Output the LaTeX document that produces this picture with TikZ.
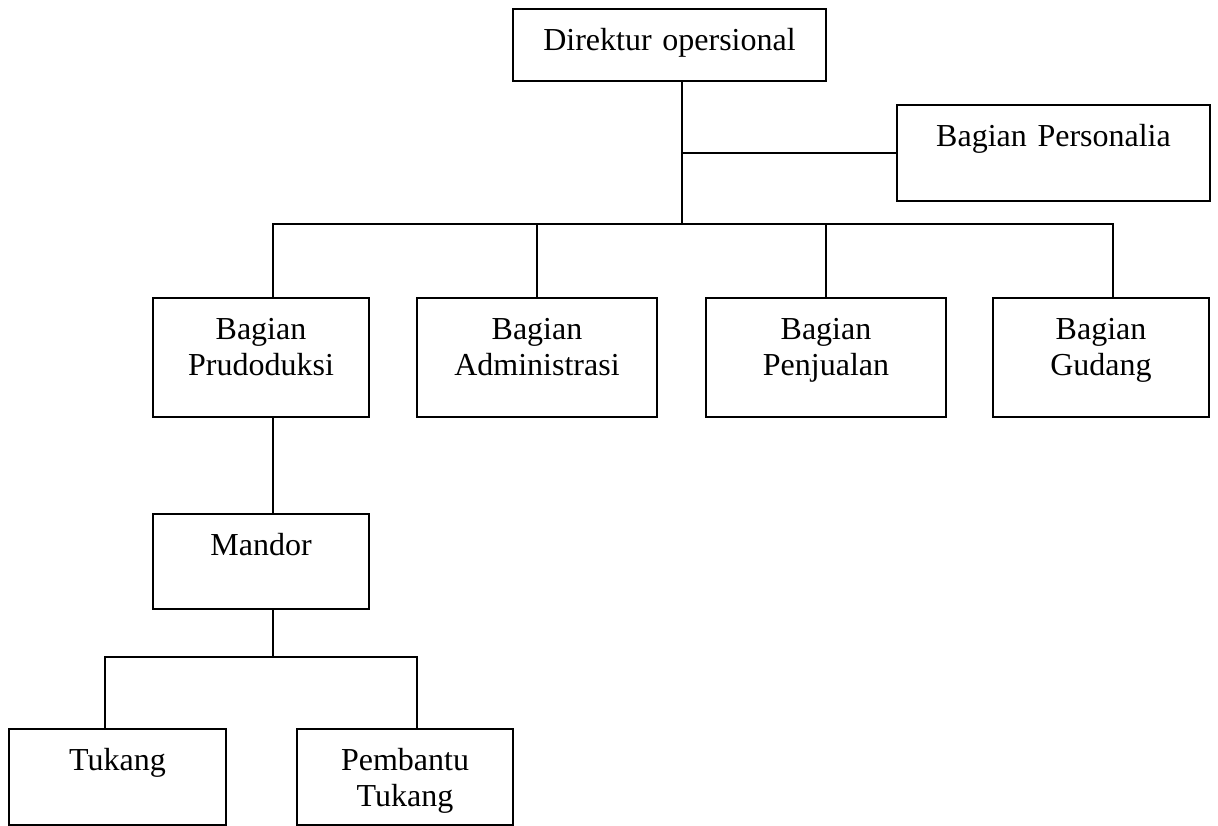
\documentclass[tikz,border=0pt]{standalone}
\usepackage{fontspec}
\setmainfont{Liberation Serif}
\usetikzlibrary{positioning, calc}

\tikzset{
	unit/.style={draw, line width=0.7pt, inner sep=0pt, anchor=north, align=center,
		text width=#1, text height=15.4pt},
	link/.style={line width=0.7pt}
}

\begin{document}
\begin{tikzpicture}[x=0.375pt, y=-0.375pt, font=\fontsize{12}{13.8}\selectfont]
	\useasboundingbox (0,0) rectangle (1218,825);
	% boxes
	\node[unit=117.4pt, text depth=11.6pt] (dir) at (669.5,8) {Direktur opersional};
	\node[unit=117.4pt, text depth=20.6pt] (pers) at (1053.5,104) {Bagian Personalia};
	\node[unit=81pt, text depth=29.2pt] (prod) at (261,297) {Bagian\\Prudoduksi};
	\node[unit=90pt, text depth=29.2pt] (adm) at (537,297) {Bagian\\Administrasi};
	\node[unit=90pt, text depth=29.2pt] (jual) at (826,297) {Bagian\\Penjualan};
	\node[unit=81pt, text depth=29.2pt] (gud) at (1101,297) {Bagian\\Gudang};
	\node[unit=81pt, text depth=20.2pt] (mandor) at (261,513) {Mandor};
	\node[unit=81.4pt, text depth=20.6pt] (tukang) at (117.5,728) {Tukang};
	\node[unit=81pt, text depth=20.6pt] (bantu) at (405,728) {Pembantu\\Tukang};
	% connectors
	\coordinate (top) at (682,224);
	\coordinate (sub) at (273,657);
	\draw[link] (top |- dir.south) -- (top);
	\draw[link] (top |- pers.west) -- (pers.west);
	\draw[link] ([xshift=4.5pt]prod.north) |- (top) -| ([xshift=4.5pt]gud.north);
	\foreach \n in {adm, jual}
		\draw[link] (\n.north) -- (\n.north |- top);
	\draw[link] ([xshift=4.5pt]prod.south) -- ([xshift=4.5pt]mandor.north);
	\draw[link] ([xshift=4.5pt]mandor.south) -- (sub);
	\draw[link] ([xshift=-4.7pt]tukang.north) |- (sub) -| ([xshift=4.5pt]bantu.north);
\end{tikzpicture}
\end{document}
